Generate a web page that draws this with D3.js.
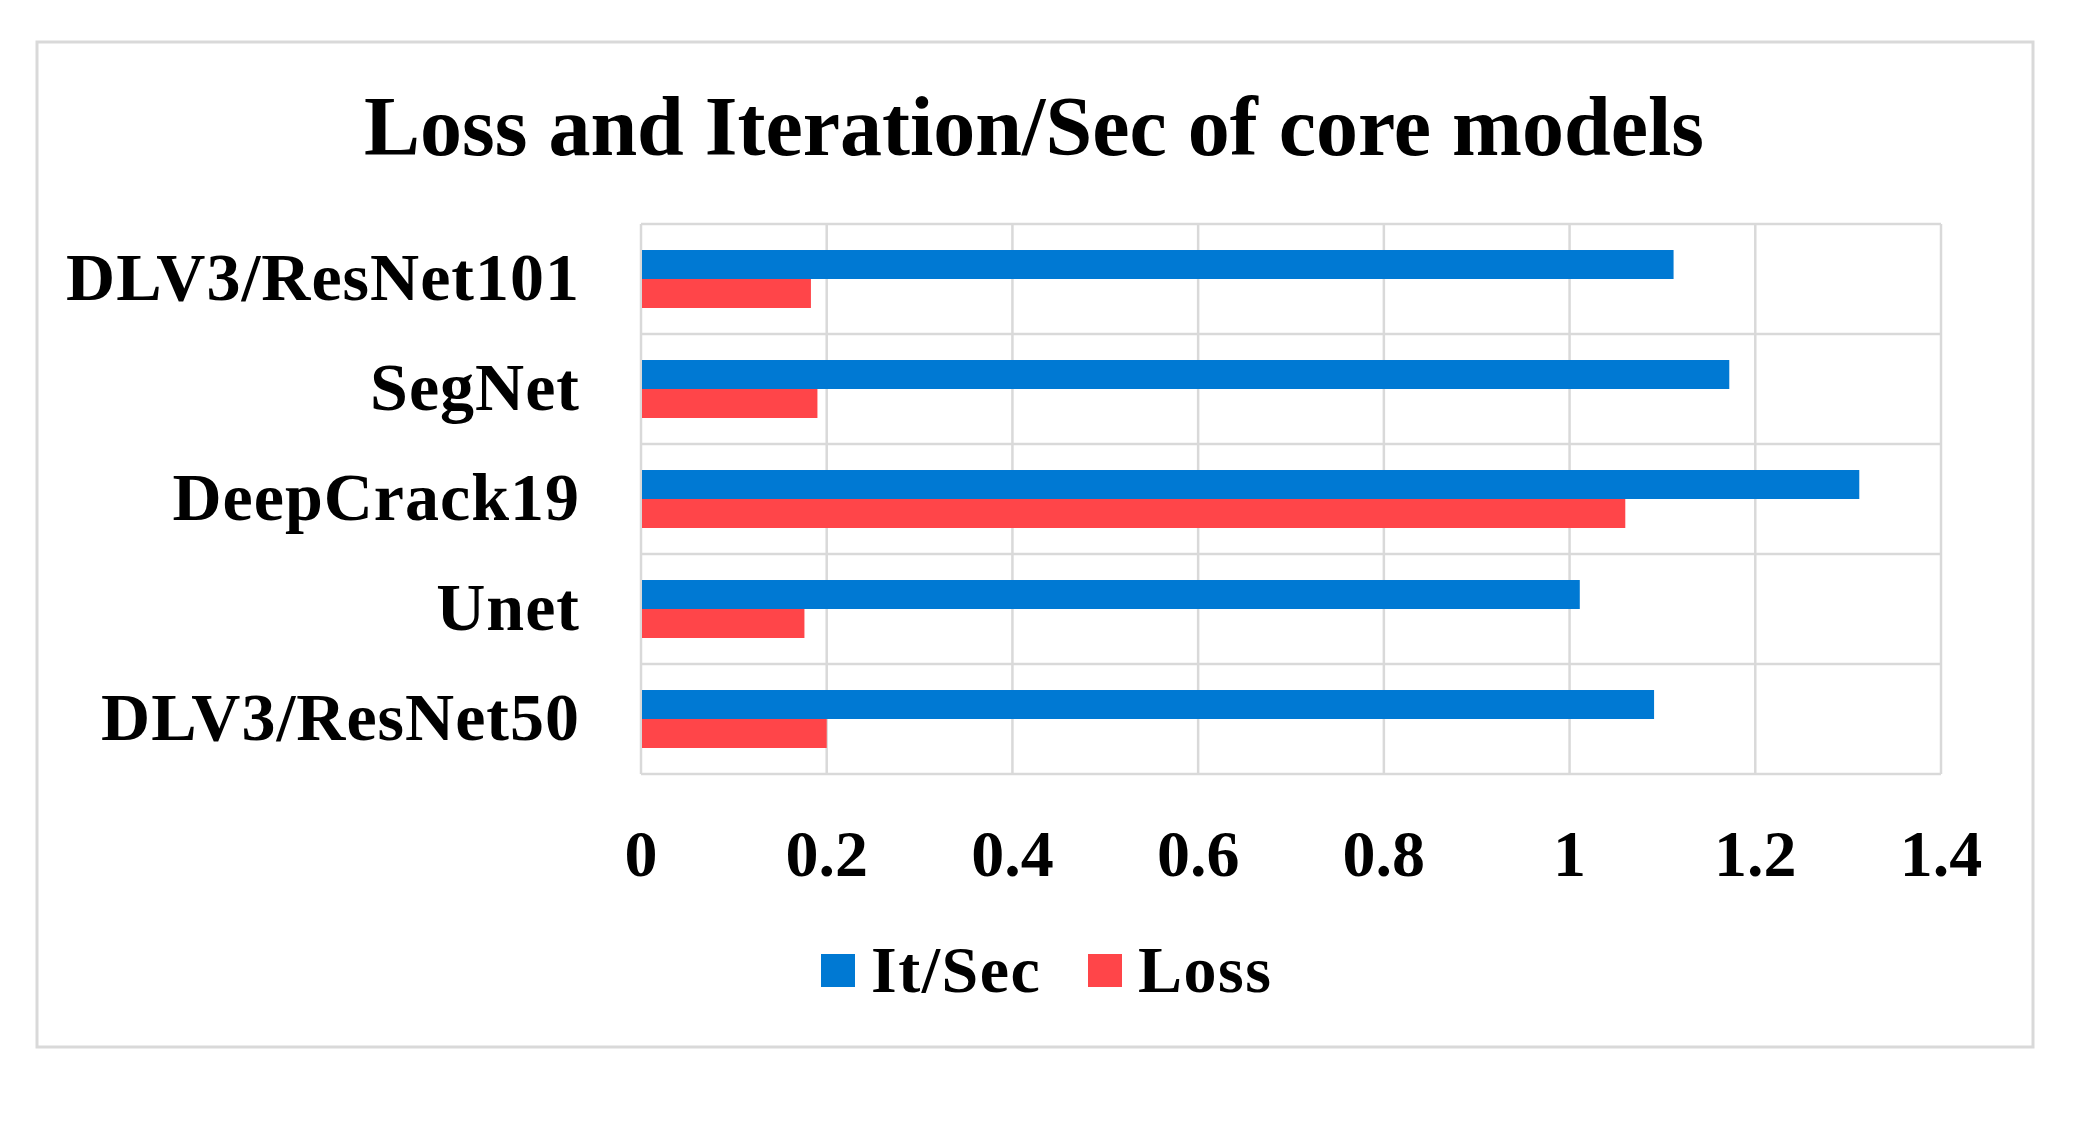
<!DOCTYPE html>
<html>
<head>
<meta charset="utf-8">
<script src="https://cdn.jsdelivr.net/npm/d3@7"></script>
<style>
  body { margin: 0; background: #fff; }
  text { font-family: "Liberation Serif", "Times New Roman", serif; font-weight: bold; fill: #000; }
</style>
</head>
<body>
<div id="svgdiv"></div>
<script>
// chart data
var categories = ["DLV3/ResNet101", "SegNet", "DeepCrack19", "Unet", "DLV3/ResNet50"];
var seriesNames = ["It/Sec", "Loss"];
var itSec = [1.112, 1.172, 1.312, 1.011, 1.091];
var loss = [0.183, 0.190, 1.060, 0.176, 0.200];
var xTicks = [0, 0.2, 0.4, 0.6, 0.8, 1, 1.2, 1.4];
var colors = ["#0079d3", "#ff4549"];

var width = 2078, height = 1129;

let svg = d3.select("#svgdiv").append("svg")
    .attr("width", width)
    .attr("height", height);

// outer chart border
svg.append("rect")
   .attr("x", 37).attr("y", 42)
   .attr("width", 1996).attr("height", 1005)
   .attr("fill", "#fff")
   .attr("stroke", "#d9d9d9")
   .attr("stroke-width", 3);

// title
svg.append("text")
   .text("Loss and Iteration/Sec of core models")
   .attr("x", 1034)
   .attr("y", 155)
   .attr("text-anchor", "middle")
   .style("font-size", "84px");

// scales
var x = d3.scaleLinear().domain([0, 1.4]).range([641, 1941]);
var y = d3.scaleBand().domain(categories).range([224, 774]).padding(0);
var inner = d3.scaleBand().domain(seriesNames).range([0, y.bandwidth()])
    .paddingInner(0).paddingOuter(0.897);

// gridlines: vertical at ticks
svg.append("g")
   .selectAll("line")
   .data(xTicks)
   .join("line")
   .attr("x1", d => x(d)).attr("x2", d => x(d))
   .attr("y1", 224).attr("y2", 774)
   .attr("stroke", "#d9d9d9")
   .attr("stroke-width", 2.5);

// horizontal lines at category boundaries
var bounds = categories.map(c => y(c)).concat([774]);
svg.append("g")
   .selectAll("line")
   .data(bounds)
   .join("line")
   .attr("x1", 641).attr("x2", 1941)
   .attr("y1", d => d).attr("y2", d => d)
   .attr("stroke", "#d9d9d9")
   .attr("stroke-width", 2.5);

// bars
var rows = categories.map((c, i) => ({cat: c, values: [itSec[i], loss[i]]}));
var groups = svg.append("g")
   .selectAll("g")
   .data(rows)
   .join("g")
   .attr("transform", d => "translate(0," + y(d.cat) + ")");

groups.selectAll("rect")
   .data(d => d.values.map((v, j) => ({name: seriesNames[j], value: v, color: colors[j]})))
   .join("rect")
   .attr("x", x(0) + 1)
   .attr("y", d => inner(d.name))
   .attr("width", d => x(d.value) - x(0) - 1)
   .attr("height", inner.bandwidth())
   .attr("fill", d => d.color);

// category labels
svg.append("g")
   .selectAll("text")
   .data(categories)
   .join("text")
   .text(d => d)
   .attr("x", 580)
   .attr("y", d => y(d) + y.bandwidth() / 2 + 21)
   .attr("text-anchor", "end")
   .style("font-size", "68px")
   .style("letter-spacing", "1px");

// x tick labels
svg.append("g")
   .selectAll("text")
   .data(xTicks)
   .join("text")
   .text(d => d3.format("~g")(d))
   .attr("x", d => x(d))
   .attr("y", 876)
   .attr("text-anchor", "middle")
   .style("font-size", "66px");

// legend
var legendX = [821, 1088];
var legend = svg.append("g")
   .selectAll("g")
   .data(seriesNames)
   .join("g")
   .attr("transform", (d, i) => "translate(" + legendX[i] + ",954)");

legend.append("rect")
   .attr("width", 34).attr("height", 33)
   .attr("fill", (d, i) => colors[i]);

legend.append("text")
   .text(d => d)
   .attr("x", 50)
   .attr("y", 38)
   .style("font-size", "66px")
   .style("letter-spacing", "1.5px");
</script>
</body>
</html>
